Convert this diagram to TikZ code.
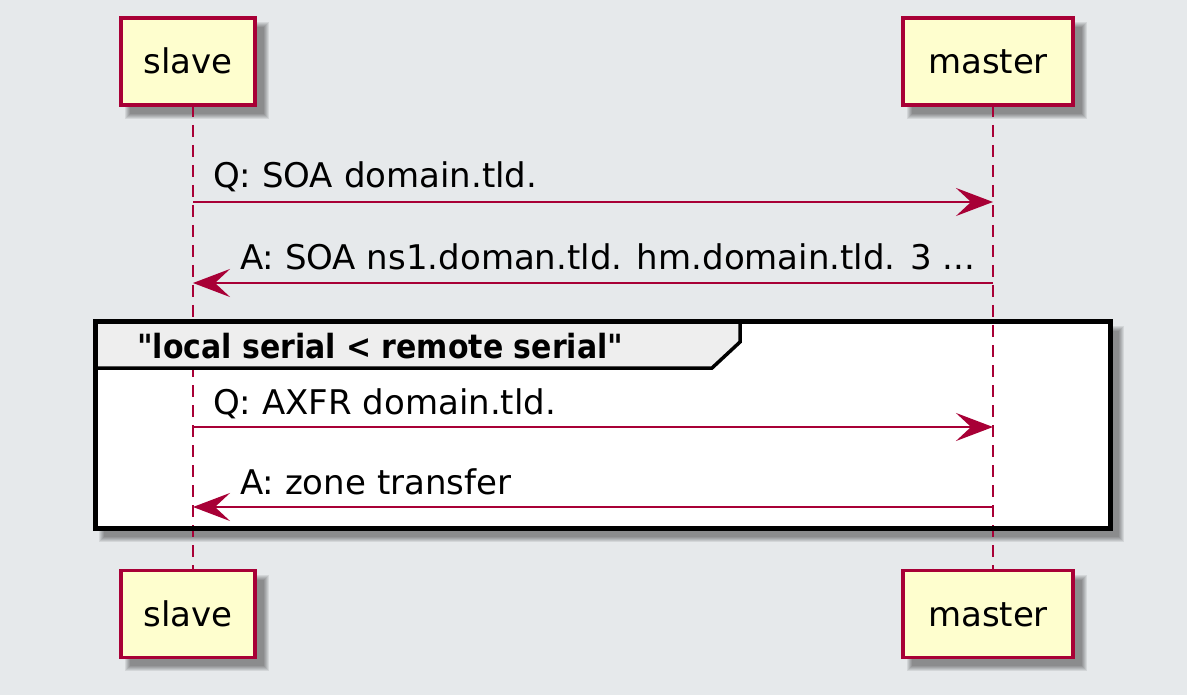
\documentclass[tikz,border=0pt]{standalone}
\usepackage{fontspec}
\setmainfont{DejaVu Sans}
\newfontfamily\hdrfont{DejaVu Sans Condensed}[BoldFont={DejaVu Sans Condensed Bold}]
\usetikzlibrary{arrows.meta}
\definecolor{bgcol}{HTML}{E6E9EB}
\definecolor{boxfill}{HTML}{FEFECE}
\definecolor{crim}{HTML}{A80036}
\definecolor{hdrfill}{HTML}{EEEEEE}
\newcommand{\myshadow}[4]{%
  \foreach \i in {0,1,2,3,4,5}{%
    \fill[black,opacity=0.08] ({#1+9-\i},{#2+9-\i}) rectangle ({#3+9+\i},{#4+9+\i});
  }%
}
\tikzset{
  pbox/.style={draw=crim, line width=3.5pt, fill=boxfill, minimum width=134pt, minimum height=87pt,
    inner sep=0pt, text height=25pt, text depth=0pt, font=\fontsize{34}{41}\selectfont},
  pboxw/.style={pbox, minimum width=170pt},
  lifeline/.style={crim, line width=2.5pt, dash pattern=on 12pt off 8pt},
  msg/.style={crim, line width=2.5pt, -{Stealth[length=37pt, width=28pt, inset=15pt]}},
  lbl/.style={anchor=base west, inner sep=0pt, font=\fontsize{34}{41}\selectfont},
  hdrtxt/.style={anchor=base west, inner sep=0pt, font=\hdrfont\bfseries\fontsize{33.3}{40}\selectfont},
}
\begin{document}
\begin{tikzpicture}[x=1pt,y=-1pt]
\useasboundingbox (0,0) rectangle (1187,695);
\fill[bgcol] (0,0) rectangle (1187,695);
% shadows
\myshadow{121}{18}{255}{105}
\myshadow{903}{18}{1073}{105}
\myshadow{121}{571}{255}{657}
\myshadow{903}{571}{1073}{657}
\myshadow{95}{322}{1110}{528}
% participants
\node[pbox] (slaveTop) at (188,61.5) {slave};
\node[pboxw] (masterTop) at (988,61.5) {master};
\node[pbox] (slaveBot) at (188,614) {slave};
\node[pboxw] (masterBot) at (988,614) {master};
% frame fill
\fill[white] (95,322) rectangle (1110,528);
% lifelines
\coordinate (slT) at (193,105);
\coordinate (slB) at (193,571);
\coordinate (maT) at (993,105);
\coordinate (maB) at (993,571);
\draw[lifeline] (slT) -- (slB);
\draw[lifeline] (maT) -- (maB);
% group header
\fill[hdrfill] (95,322) -- (740,322) -- (740,342) -- (712,368) -- (95,368) -- cycle;
\draw[line width=3.5pt] (740,322) -- (740,342) -- (712,368) -- (95,368);
\node[hdrtxt] (grp) at (137,358) {"local serial < remote serial"};
\draw[line width=5pt] (95,322) rectangle (1110,528);
% messages
\coordinate (s1) at (193,202); \coordinate (m1) at (993,202);
\coordinate (s2) at (193,283); \coordinate (m2) at (993,283);
\coordinate (s3) at (193,427); \coordinate (m3) at (993,427);
\coordinate (s4) at (193,507); \coordinate (m4) at (993,507);
\draw[msg] (s1) -- (m1);
\draw[msg] (m2) -- (s2);
\draw[msg] (s3) -- (m3);
\draw[msg] (m4) -- (s4);
\node[lbl] (t1) at (213,188) {Q: SOA domain.tld.};
\node[lbl] (t2) at (240,270) {A: SOA ns1.doman.tld. hm.domain.tld. 3 ...};
\node[lbl] (t3) at (213,414) {Q: AXFR domain.tld.};
\node[lbl] (t4) at (240,494) {A: zone transfer};
\end{tikzpicture}
\end{document}
